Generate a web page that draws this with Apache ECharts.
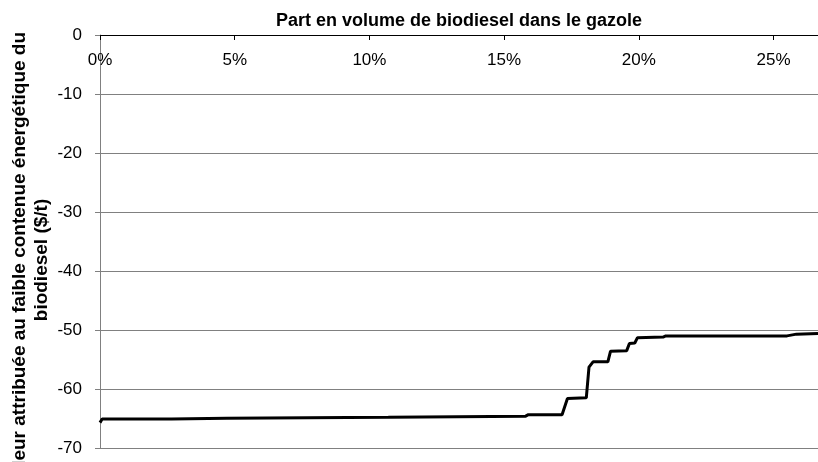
<!DOCTYPE html>
<html lang="fr">
<head>
    <meta charset="UTF-8">
    <script src="https://cdn.jsdelivr.net/npm/echarts@6/dist/echarts.min.js"></script>
    <title>Biodiesel</title>
    <style>
        html, body { margin: 0; padding: 0; background: #fff; }
    </style>
</head>
<body>
    <div id="main" style="width: 818px; height: 462px;"></div>
    <script>
        // part en volume (%) et valeur ($/t)
        var shareX = [0, 0.08, 2.65, 2.7, 4.7, 4.75, 10.7, 10.75, 15.8, 15.9, 17.15, 17.35, 18.05, 18.15, 18.3, 18.85, 18.95, 19.55, 19.65, 19.85, 19.95, 20.9, 21.0, 25.5, 25.85, 26.65];
        var valueY = [-65.7, -65.1, -65.1, -64.95, -64.95, -64.8, -64.8, -64.6, -64.6, -64.35, -64.35, -61.6, -61.5, -56.3, -55.4, -55.4, -53.6, -53.5, -52.3, -52.2, -51.3, -51.2, -51.0, -51.0, -50.7, -50.6];
        var xTicks = [0, 5, 10, 15, 20, 25];
        var yTicks = [0, -10, -20, -30, -40, -50, -60, -70];

        var points = shareX.map(function (x, i) { return [x, valueY[i]]; });

        var chart = echarts.init(document.getElementById('main'));
        var option = {
            animation: false,
            textStyle: { fontFamily: 'Liberation Sans, Arial, sans-serif' },
            title: {
                text: 'Part en volume de biodiesel dans le gazole',
                left: 454,
                top: 7,
                textAlign: 'center',
                textStyle: { fontSize: 18, fontWeight: 'bold', color: '#000' }
            },
            grid: { left: 100, right: 0, top: 35, bottom: 14 },
            xAxis: {
                type: 'value',
                position: 'top',
                min: xTicks[0],
                max: 26.65,
                interval: 5,
                axisLine: { show: true, lineStyle: { color: '#000', width: 1 } },
                axisTick: { show: true, inside: true, length: 5, lineStyle: { color: '#000' } },
                axisLabel: {
                    inside: true,
                    margin: 17,
                    showMaxLabel: false,
                    fontSize: 17,
                    color: '#000',
                    formatter: function (v) { return v + '%'; }
                },
                splitLine: { show: false }
            },
            yAxis: {
                type: 'value',
                min: yTicks[yTicks.length - 1],
                max: yTicks[0],
                interval: 10,
                axisLine: { show: true, lineStyle: { color: '#808080' } },
                axisTick: { show: true, length: 5, lineStyle: { color: '#808080' } },
                axisLabel: { fontSize: 17, color: '#000', margin: 18 },
                splitLine: { show: true, lineStyle: { color: '#808080', width: 1 } }
            },
            graphic: [{
                type: 'text',
                x: 31,
                y: 260,
                rotation: Math.PI / 2,
                style: {
                    text: 'Valeur attribuée au faible contenue énergétique du\nbiodiesel ($/t)',
                    font: 'bold 19px "Liberation Sans", Arial, sans-serif',
                    fill: '#000',
                    align: 'center',
                    verticalAlign: 'middle',
                    lineHeight: 22
                }
            }],
            series: [{
                type: 'line',
                data: points,
                symbol: 'none',
                lineStyle: { color: '#000', width: 3 }
            }]
        };
        chart.setOption(option);
    </script>
</body>
</html>
